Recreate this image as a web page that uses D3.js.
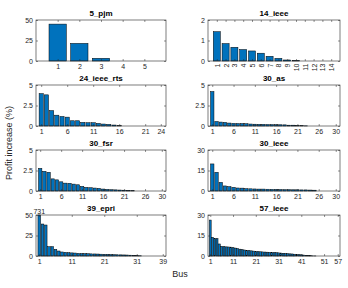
<!DOCTYPE html>
<html>
<head>
<meta charset="utf-8">
<script src="https://cdn.jsdelivr.net/npm/d3@7"></script>
<style>
  body { margin: 0; background: #fff; }
  svg { font-family: "Liberation Sans", Arial, sans-serif; }
</style>
</head>
<body>
<div id="chart"></div>
<script>
// Profit increase per bus, one small bar chart per test case

const caseNames = ["5_pjm", "14_ieee", "24_ieee_rts", "30_as", "30_fsr", "30_ieee", "39_epri", "57_ieee"];

const pjm5 = [45, 21.5, 3.3, 0, 0];
const ieee14 = [1.43, 0.85, 0.67, 0.56, 0.49, 0.38, 0.23, 0.13, 0.05, 0.02, 0, 0, 0, 0];
const ieeeRts24 = [3.95, 3.8, 1.88, 1.32, 1.16, 1.08, 0.64, 0.64, 0.44, 0.4, 0.4, 0.32,
  0.24, 0.2, 0.12, 0.04, 0, 0, 0, 0, 0, 0, 0, 0];
const as30 = [4.2, 0.55, 0.48, 0.44, 0.36, 0.32, 0.3, 0.3, 0.28, 0.24, 0.22, 0.2, 0.2,
  0.18, 0.17, 0.16, 0.15, 0.14, 0.1, 0.1, 0.06, 0.04, 0.02, 0, 0, 0, 0, 0, 0, 0];
const fsr30 = [2.76, 2.4, 2.28, 1.48, 1.36, 1.12, 0.96, 0.94, 0.84, 0.76, 0.56, 0.44,
  0.4, 0.36, 0.32, 0.24, 0.2, 0.16, 0.14, 0.12, 0.1, 0.08, 0.05, 0, 0, 0, 0, 0, 0, 0];
const ieee30 = [19.8, 13.7, 6.3, 3.7, 3.2, 2.7, 2.2, 2.1, 1.7, 1.6, 1.5, 1.4, 1.4, 1.3,
  1.2, 1.2, 1.1, 1.0, 1.0, 0.9, 0.9, 0.8, 0.8, 0.7, 0.6, 0, 0, 0, 0, 0];
const epri39 = [731, 39, 37.8, 11.4, 11.4, 8.1, 6.1, 4.9, 4.5, 4, 3.8, 3.6, 3.2, 3, 2.9,
  2.8, 2.6, 2.5, 2.4, 2.2, 2.1, 2, 1.8, 1.7, 1.5, 1.4, 1.3, 1.2, 1.0, 0.9, 0.6, 0.3,
  0, 0, 0, 0, 0, 0, 0];
const ieee57 = [26.3, 13.7, 12.9, 12.7, 8.8, 7.1, 6.9, 6.7, 6.6, 6.5, 6.1, 5.8, 5.5, 5.0,
  4.7, 4.4, 4.2, 4.0, 3.8, 3.6, 3.4, 3.2, 3.1, 3.0, 2.9, 2.8, 2.7, 2.6, 2.5, 2.4, 2.3,
  2.2, 2.0, 1.9, 1.8, 1.6, 1.5, 1.3, 1.2, 1.0, 0.9, 0.7, 0.5, 0.4, 0.2, 0.1, 0.05,
  0, 0, 0, 0, 0, 0, 0, 0, 0, 0];

const seriesList = [pjm5, ieee14, ieeeRts24, as30, fsr30, ieee30, epri39, ieee57];
const yMaxList = [50, 2, 5, 5, 5, 30, 50, 30];
const yTickList = [[0, 25, 50], [0, 1, 2], [0, 2.5, 5], [0, 2.5, 5], [0, 2.5, 5],
  [0, 15, 30], [0, 25, 50], [0, 15, 30]];
const xTickList = [
  [1, 2, 3, 4, 5],
  [1, 2, 3, 4, 5, 6, 7, 8, 9, 10, 11, 12, 13, 14],
  [1, 6, 11, 16, 21, 24],
  [1, 6, 11, 16, 21, 26, 30],
  [1, 6, 11, 16, 21, 26, 30],
  [1, 6, 11, 16, 21, 26, 30],
  [1, 11, 21, 31, 39],
  [1, 11, 21, 31, 41, 51, 57]
];

const width = 348, height = 288;
const colLeft = [36, 208], colRight = [166, 340];
const rowTop = 20, rowStep = 65, plotH = 41;
const axisColor = "#262626";

const svg = d3.select("#chart").append("svg")
  .attr("width", width)
  .attr("height", height)
  .attr("viewBox", [0, 0, width, height]);

seriesList.forEach((vals, i) => {
  const col = i % 2, row = Math.floor(i / 2);
  const x0 = colLeft[col], x1 = colRight[col];
  const top = rowTop + row * rowStep, bottom = top + plotH;
  const n = vals.length;

  const x = d3.scaleLinear().domain([0, n + 1]).range([x0, x1]);
  const y = d3.scaleLinear().domain([0, yMaxList[i]]).range([bottom, top]).clamp(true);

  const g = svg.append("g");

  // bars
  const bw = (x(1) - x(0)) * 0.8;
  g.selectAll("rect.bar")
    .data(vals)
    .join("rect")
    .attr("class", "bar")
    .attr("x", (d, j) => x(j + 1) - bw / 2)
    .attr("width", bw)
    .attr("y", d => y(d))
    .attr("height", d => y(0) - y(d))
    .attr("fill", "#0072BD")
    .attr("stroke", "#000")
    .attr("stroke-width", 0.5);

  // axes (ticks point inward like matlab)
  const fmt = d => d;
  const xAx = g.append("g")
    .attr("transform", `translate(0,${bottom})`)
    .call(d3.axisBottom(x).tickValues(xTickList[i]).tickSize(-2).tickPadding(3).tickFormat(fmt));
  g.append("g")
    .attr("transform", `translate(0,${top})`)
    .call(d3.axisTop(x).tickValues(xTickList[i]).tickSize(-2).tickFormat(""));
  g.append("g")
    .attr("transform", `translate(${x0},0)`)
    .call(d3.axisLeft(y).tickValues(yTickList[i]).tickSize(-2).tickPadding(3).tickFormat(fmt));
  g.append("g")
    .attr("transform", `translate(${x1},0)`)
    .call(d3.axisRight(y).tickValues(yTickList[i]).tickSize(-2).tickFormat(""));

  g.selectAll(".domain").remove();
  g.selectAll(".tick line").attr("stroke", axisColor).attr("stroke-width", 0.5);
  g.selectAll(".tick text")
    .attr("fill", axisColor)
    .style("font-size", "7px")
    .style("font-family", "'Liberation Sans', Arial, sans-serif");

  if (n === 14) {
    // rotated labels for 14_ieee
    xAx.selectAll(".tick text")
      .attr("transform", "rotate(-90)")
      .attr("text-anchor", "end")
      .attr("x", -2.5)
      .attr("y", 0)
      .attr("dy", "0.35em");
  }

  g.append("rect")
    .attr("x", x0).attr("y", top)
    .attr("width", x1 - x0).attr("height", plotH)
    .attr("fill", "none")
    .attr("stroke", axisColor)
    .attr("stroke-width", 0.6);

  g.append("text")
    .attr("x", (x0 + x1) / 2)
    .attr("y", top - 4)
    .attr("text-anchor", "middle")
    .attr("font-size", 8)
    .attr("font-weight", "bold")
    .attr("fill", "#000")
    .text(caseNames[i]);

  // clipped value for 39_epri
  if (vals[0] > yMaxList[i]) {
    g.append("text")
      .attr("x", x(1))
      .attr("y", top - 1.5)
      .attr("text-anchor", "middle")
      .attr("font-size", 7)
      .attr("fill", axisColor)
      .text(vals[0]);
  }
});

svg.append("text")
  .attr("transform", `translate(12,${143}) rotate(-90)`)
  .attr("text-anchor", "middle")
  .attr("font-size", 9)
  .attr("fill", axisColor)
  .text("Profit increase (%)");

svg.append("text")
  .attr("x", 180)
  .attr("y", 277)
  .attr("text-anchor", "middle")
  .attr("font-size", 9)
  .attr("fill", axisColor)
  .text("Bus");
</script>
</body>
</html>
